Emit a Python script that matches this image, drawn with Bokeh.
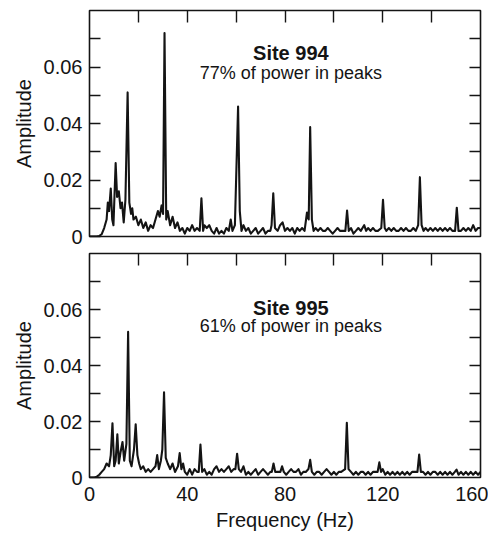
from bokeh.plotting import figure
from bokeh.layouts import column
from bokeh.models import Range1d, LinearAxis, FixedTicker, CustomJSTickFormatter
from bokeh.core.properties import value
from bokeh.embed import file_html
from bokeh.resources import INLINE

# ---------------- data ----------------
f994 = [0, 1, 2, 3, 4, 5, 6, 7, 7.5, 8, 8.7, 9.3, 9.8, 10.7, 11.3, 12, 12.7, 13.3, 14, 14.7,
        15.6, 16.3, 17, 17.5, 18, 19, 20, 21, 22, 23, 24, 25, 26, 27, 28, 28.7, 29.5, 30.1,
        30.7, 31.4, 32, 33, 34, 35, 36, 37, 38, 39, 40, 41, 42, 43, 44, 45.1, 45.8, 46.5,
        47, 48, 49, 50, 51, 52, 53, 54, 55, 56, 57, 57.8, 58.5, 59.5, 60.8, 61.5, 62.2, 63,
        64, 65, 66, 67, 68, 69, 70, 71, 72, 73, 74, 74.5, 75.2, 75.9, 77, 78, 79, 80, 81,
        82, 83, 84, 85, 86, 87, 88, 89, 89.7, 90.3, 91, 91.7, 92.5, 93.5, 94.5, 95.5, 96.5,
        97.5, 98.5, 99.5, 100.5, 101.5, 102.5, 103.5, 104.7, 105.4, 106.1, 107, 108, 109,
        110, 111, 112.4, 113.2, 114, 115, 116, 117, 118, 119.4, 120.1, 120.8, 121.5, 122.5,
        123.5, 124.5, 125.5, 126.5, 127.5, 128.5, 129.5, 130.5, 131.5, 132.5, 133.5, 134.5,
        135.2, 135.9, 136.7, 137.5, 138.5, 139.5, 140.5, 141.5, 142.5, 143.5, 144.5, 145.5,
        146.5, 147.5, 148.5, 149.6, 150.3, 151, 152, 153, 154, 155, 156, 157, 158, 159, 160]
a994 = [0, 0, 0, 0, 0.0002, 0.0008, 0.003, 0.006, 0.012, 0.009, 0.017, 0.006, 0.004, 0.026,
        0.014, 0.016, 0.010, 0.012, 0.005, 0.013, 0.051, 0.012, 0.008, 0.010, 0.006, 0.007,
        0.004, 0.006, 0.003, 0.005, 0.002, 0.004, 0.003, 0.006, 0.009, 0.007, 0.011, 0.008,
        0.072, 0.006, 0.009, 0.004, 0.007, 0.003, 0.005, 0.002, 0.003, 0.001, 0.003, 0.002,
        0.004, 0.002, 0.003, 0.002, 0.0135, 0.002, 0.004, 0.003, 0.004, 0.002, 0.001, 0.003,
        0.001, 0.002, 0.001, 0.003, 0.002, 0.006, 0.002, 0.004, 0.046, 0.009, 0.002, 0.004,
        0.002, 0.003, 0.001, 0.002, 0.003, 0.001, 0.002, 0.003, 0.001, 0.002, 0.002, 0.004,
        0.0153, 0.003, 0.002, 0.004, 0.005, 0.002, 0.003, 0.002, 0.003, 0.001, 0.003, 0.002,
        0.003, 0.002, 0.0085, 0.006, 0.0387, 0.006, 0.002, 0.003, 0.002, 0.003, 0.002, 0.002,
        0.003, 0.002, 0.001, 0.002, 0.003, 0.002, 0.002, 0.002, 0.0092, 0.002, 0.003, 0.001,
        0.002, 0.003, 0.002, 0.004, 0.002, 0.003, 0.002, 0.003, 0.002, 0.002, 0.003, 0.013,
        0.003, 0.002, 0.003, 0.002, 0.003, 0.002, 0.002, 0.003, 0.002, 0.003, 0.002, 0.002,
        0.003, 0.002, 0.004, 0.021, 0.004, 0.002, 0.003, 0.002, 0.003, 0.002, 0.003, 0.002,
        0.003, 0.002, 0.003, 0.002, 0.003, 0.002, 0.002, 0.0102, 0.002, 0.002, 0.003, 0.002,
        0.003, 0.002, 0.004, 0.002, 0.003, 0.003]

f995 = [0, 1, 2, 3, 4, 5, 6, 7, 8, 8.7, 9.4, 10.1, 10.7, 11.4, 12, 12.7, 13.5, 14.2, 15.1,
        15.8, 16.5, 17.2, 18.2, 18.9, 19.6, 20.3, 21, 22, 23, 24, 25, 26, 27, 27.7, 28.4,
        29.2, 29.8, 30.5, 31.2, 32, 33, 34, 35, 36.2, 36.9, 37.6, 38.3, 39, 40, 41, 42, 43,
        44, 44.7, 45.4, 46.1, 47, 48, 49, 50, 51, 52, 53, 54, 55, 56, 57, 58, 59, 59.7, 60.4,
        61.1, 62, 63, 64, 65, 66, 67, 68, 69, 70, 71, 72, 73, 74, 74.6, 75.3, 76, 77, 78.1,
        78.8, 79.5, 80.5, 81.5, 82.5, 83.5, 84.5, 85.5, 86.5, 87.5, 88.5, 89.6, 90.3, 91,
        92, 93, 94, 95, 96, 97, 98, 99, 100, 101, 102, 103, 104.6, 105.3, 106, 107, 108,
        109, 110, 111, 112, 113, 114, 115, 116, 117, 117.9, 118.6, 119.3, 120, 121, 122,
        123, 124, 125, 126, 127, 128, 129, 130, 131, 132, 133, 134.2, 134.9, 135.6, 136.5,
        137.5, 138.5, 139.5, 140.5, 141.5, 142.5, 143.5, 144.5, 145.5, 146.5, 147.5, 148.5,
        149.5, 150.2, 151, 152, 153, 154, 155, 156, 157, 158, 159, 160]
a995 = [0, 0, 0, 0.0003, 0.001, 0.002, 0.003, 0.005, 0.004, 0.008, 0.0194, 0.004, 0.006,
        0.0154, 0.005, 0.009, 0.0127, 0.006, 0.012, 0.052, 0.006, 0.004, 0.010, 0.019, 0.008,
        0.005, 0.003, 0.004, 0.002, 0.003, 0.002, 0.003, 0.004, 0.008, 0.003, 0.006, 0.010,
        0.0304, 0.007, 0.005, 0.003, 0.005, 0.002, 0.004, 0.0087, 0.003, 0.005, 0.002, 0.001,
        0.003, 0.001, 0.003, 0.002, 0.002, 0.0118, 0.002, 0.003, 0.001, 0.002, 0.001, 0.003,
        0.004, 0.002, 0.003, 0.002, 0.003, 0.004, 0.002, 0.003, 0.003, 0.0085, 0.003, 0.002,
        0.004, 0.001, 0.002, 0.001, 0.002, 0.003, 0.001, 0.002, 0.003, 0.002, 0.001, 0.002,
        0.002, 0.005, 0.002, 0.002, 0.002, 0.004, 0.002, 0.001, 0.002, 0.003, 0.002, 0.002,
        0.003, 0.001, 0.002, 0.002, 0.003, 0.0063, 0.002, 0.001, 0.002, 0.002, 0.001, 0.002,
        0.003, 0.002, 0.001, 0.002, 0.001, 0.002, 0.002, 0.003, 0.0195, 0.003, 0.002, 0.001,
        0.002, 0.001, 0.002, 0.002, 0.001, 0.002, 0.001, 0.002, 0.002, 0.002, 0.0054, 0.002,
        0.003, 0.001, 0.002, 0.001, 0.002, 0.001, 0.002, 0.001, 0.002, 0.001, 0.002, 0.001,
        0.002, 0.002, 0.002, 0.0082, 0.002, 0.002, 0.001, 0.002, 0.001, 0.002, 0.002, 0.001,
        0.002, 0.001, 0.002, 0.001, 0.002, 0.001, 0.002, 0.0028, 0.001, 0.002, 0.001, 0.002,
        0.001, 0.002, 0.001, 0.002, 0.001, 0.002]

site_titles = ["Site 994", "Site 995"]
site_notes = ["77% of power in peaks", "61% of power in peaks"]

y_major = [0, 0.02, 0.04, 0.06]
y_minor = [0.01, 0.03, 0.05, 0.07]
y_labels = {0: "0", 0.02: "0.02", 0.04: "0.04", 0.06: "0.06"}
y_right_ticks = [0.01, 0.02, 0.03, 0.04, 0.05, 0.06, 0.07]
x_top_ticks = [20, 40, 60, 80, 100, 120, 140]
x_label_ticks = [0, 40, 80, 120, 156.5]
x_labels = {0: "0", 40: "40", 80: "80", 120: "120", 156.5: "160"}

FONT = "Liberation Sans"
INK = "#141414"


def tick_only_axis(ticks, length):
    return LinearAxis(ticker=FixedTicker(ticks=ticks),
                      formatter=CustomJSTickFormatter(code="return ''"),
                      axis_line_color=None, major_tick_in=length, major_tick_out=0,
                      major_tick_line_color=INK, major_tick_line_width=1.4,
                      minor_tick_line_color=None, major_label_text_font_size="1px",
                      major_label_standoff=0)


def make_panel(fx, ay, title, note, ty, ny, height, top, bottom, show_x):
    p = figure(width=488, height=height, output_backend="svg", toolbar_location=None,
               x_range=Range1d(0, 160), y_range=Range1d(0, 0.08),
               min_border_left=89, min_border_right=8,
               min_border_top=top, min_border_bottom=bottom,
               x_axis_location="below" if show_x else None)
    p.grid.visible = False
    p.outline_line_color = INK
    p.outline_line_width = 1.6
    p.background_fill_color = "white"
    p.border_fill_color = "white"

    # left axis
    ya = p.left[0]
    ya.ticker = FixedTicker(ticks=y_major, minor_ticks=y_minor)
    ya.major_label_overrides = y_labels
    ya.axis_line_color = None
    ya.major_tick_in = 11
    ya.major_tick_out = 0
    ya.minor_tick_in = 11
    ya.minor_tick_out = 0
    ya.major_tick_line_color = INK
    ya.minor_tick_line_color = INK
    ya.major_tick_line_width = 1.4
    ya.minor_tick_line_width = 1.4
    ya.major_label_text_font = FONT
    ya.major_label_text_font_size = "20px"
    ya.major_label_text_color = INK
    ya.major_label_standoff = 7
    ya.axis_label = "Amplitude"
    ya.axis_label_text_font = FONT
    ya.axis_label_text_font_size = "20px"
    ya.axis_label_text_font_style = "normal"
    ya.axis_label_text_color = INK
    ya.axis_label_standoff = 6

    if show_x:
        xa = p.below[0]
        xa.ticker = FixedTicker(ticks=x_label_ticks)
        xa.major_label_overrides = x_labels
        xa.axis_line_color = None
        xa.major_tick_in = 0
        xa.major_tick_out = 0
        xa.minor_tick_line_color = None
        xa.major_label_text_font = FONT
        xa.major_label_text_font_size = "20px"
        xa.major_label_text_color = INK
        xa.major_label_standoff = 9
        xa.axis_label = "Frequency (Hz)"
        xa.axis_label_text_font = FONT
        xa.axis_label_text_font_size = "20px"
        xa.axis_label_text_font_style = "normal"
        xa.axis_label_text_color = INK
        xa.axis_label_standoff = 5

    p.add_layout(tick_only_axis(y_right_ticks, 11), "right")
    p.add_layout(tick_only_axis(x_top_ticks, 12), "above")

    p.line(fx, ay, line_color=INK, line_width=2.1, line_join="round")

    p.text(x=[82.4], y=[ty], text=[title], text_font=value(FONT), text_font_size="20px",
           text_font_style="bold", text_align="center", text_baseline="alphabetic",
           text_color=INK)
    p.text(x=[82.4], y=[ny], text=[note], text_font=value(FONT), text_font_size="18px",
           text_align="center", text_baseline="alphabetic", text_color=INK)
    return p


p1 = make_panel(f994, a994, site_titles[0], site_notes[0], 0.0648, 0.058,
                height=250, top=10, bottom=14, show_x=False)
p2 = make_panel(f995, a995, site_titles[1], site_notes[1], 0.0605, 0.0542,
                height=283, top=3, bottom=56, show_x=True)

layout = column(p1, p2, spacing=0)
open("out.html", "w").write(file_html(layout, INLINE))
